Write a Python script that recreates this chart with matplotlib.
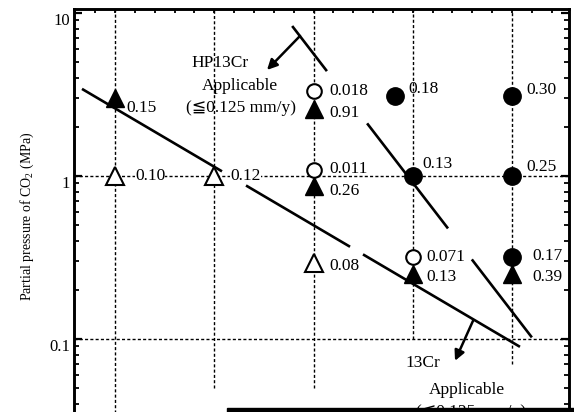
import numpy as np
import matplotlib
matplotlib.use('Agg')
import matplotlib.pyplot as plt
from matplotlib.patches import Rectangle
from matplotlib.ticker import FixedLocator, LogLocator, NullFormatter

plt.rcParams['font.family'] = ['Liberation Serif', 'DejaVu Sans']
plt.rcParams['mathtext.fontset'] = 'custom'
plt.rcParams['mathtext.rm'] = 'Liberation Serif'

# test temperatures (vertical guide lines), x labels are cropped in the source
temps = [60, 80, 100, 120, 140]
guide_bottom = [0.03, 0.05, 0.05, 0.1, 0.07]

# HP13Cr / 13Cr corrosion rates (mm/y) at each test condition
filled_tri_T = [60, 100, 100, 120, 140]
filled_tri_P = [3.0, 2.58, 0.87, 0.25, 0.25]
filled_tri_lbl = ['0.15', '0.91', '0.26', '0.13', '0.39']

open_tri_T = [60, 80, 100]
open_tri_P = [1.0, 1.0, 0.29]
open_tri_lbl = ['0.10', '0.12', '0.08']

open_circ_T = [100, 100, 120]
open_circ_P = [3.32, 1.09, 0.32]
open_circ_lbl = ['0.018', '0.011', '0.071']

filled_circ_T = [116.4, 120, 140, 140, 140]
filled_circ_P = [3.1, 1.0, 3.1, 1.0, 0.32]
filled_circ_lbl = ['0.18', '0.13', '0.30', '0.25', '0.17']

# boundary lines (end points) and the pieces that are actually drawn
hp_ends = [(95.7, 8.32), (144.0, 0.102)]
hp_pieces = [(95.7, 102.7), (110.8, 127.1), (131.9, 144.0)]
cr_ends = [(53.35, 3.42), (141.6, 0.0893)]
cr_pieces = [(53.35, 81.56), (86.4, 107.36), (109.97, 141.6)]

# label offsets in pixels (dx, dy), dy positive = down
filled_tri_off = [(11, 10), (16, 4), (16, 5), (14, 3), (20, 3)]
open_tri_off = [(20, 0), (16, 0), (16, 3)]
open_circ_off = [(16, 0), (16, -1), (14, 0)]
filled_circ_off = [(13, -7), (10, -12), (14, -6), (14, -9), (20, -1)]


def on_line(T, ends):
    (t0, p0), (t1, p1) = ends
    return 10 ** np.interp(T, [t0, t1], [np.log10(p0), np.log10(p1)])


fig = plt.figure(figsize=(5.74, 4.12), dpi=100)
ax = fig.add_axes([74 / 574, 1 - 424 / 412, 495 / 574, 415 / 412])
ax.set_yscale('log')
ax.set_xlim(51.74, 151.48)
ax.set_ylim(0.03, 10.58)

dash = (0, (2.2, 1.6))
for t, yb in zip(temps, guide_bottom):
    ax.plot([t, t], [yb, 10.58], color='k', lw=1.0, ls=dash, zorder=1)
for yv in [1, 0.1]:
    ax.axhline(yv, color='k', lw=1.0, ls=dash, zorder=1)

for ends, pieces in [(hp_ends, hp_pieces), (cr_ends, cr_pieces)]:
    for a, b in pieces:
        ts = np.array([a, b])
        ax.plot(ts, on_line(ts, ends), color='k', lw=1.9, zorder=2,
                solid_capstyle='butt')

arrow = dict(arrowstyle='-|>', lw=1.8, color='k', mutation_scale=15,
             shrinkA=0, shrinkB=0)
ax.annotate('', xy=(90.63, 4.47), xytext=(97.28, 7.23), arrowprops=arrow)
ax.annotate('', xy=(128.51, 0.0733), xytext=(132.14, 0.129), arrowprops=arrow)

ax.plot(filled_tri_T, filled_tri_P, '^', ms=13, color='k', zorder=3)
ax.plot(open_tri_T, open_tri_P, '^', ms=13, mfc='white', mec='k', mew=1.5, zorder=3)
ax.plot(open_circ_T, open_circ_P, 'o', ms=10.5, mfc='white', mec='k', mew=1.5, zorder=4)
ax.plot(filled_circ_T, filled_circ_P, 'o', ms=12.5, color='k', zorder=3)

groups = [
    (filled_tri_T, filled_tri_P, filled_tri_lbl, filled_tri_off),
    (open_tri_T, open_tri_P, open_tri_lbl, open_tri_off),
    (open_circ_T, open_circ_P, open_circ_lbl, open_circ_off),
    (filled_circ_T, filled_circ_P, filled_circ_lbl, filled_circ_off),
]
for xs, ys, lbls, offs in groups:
    for x, y, s, (dx, dy) in zip(xs, ys, lbls, offs):
        box = dict(fc='white', ec='none', pad=0.1) if dy == 0 else None
        ax.annotate(s, xy=(x, y), xytext=(dx, -dy), textcoords='offset pixels',
                    ha='left', va='center', fontsize=12.5, zorder=5, bbox=box)

ax.text(81.16, 4.94, 'HP13Cr', ha='center', va='center', fontsize=12.5)
ax.text(85.19, 3.57, 'Applicable', ha='center', va='center', fontsize=12.5)
ax.text(85.39, 2.61, '(≦0.125 mm/y)', ha='center', va='center', fontsize=12.5)
ax.text(122.06, 0.0712, '13Cr', ha='center', va='center', fontsize=12.5)
ax.text(130.93, 0.0486, 'Applicable', ha='center', va='center', fontsize=12.5)
ax.text(131.7, 0.0356, '(≦0.125 mm/y)', ha='center', va='center', fontsize=12.5)

ax.set_xticks(np.arange(52, 152, 4))
ax.tick_params(axis='x', which='both', direction='in', top=True, bottom=False,
               labelbottom=False, length=3, width=1.3)
ax.yaxis.set_major_locator(FixedLocator([0.1, 1, 10]))
ax.yaxis.set_minor_locator(LogLocator(base=10, subs=np.arange(2, 10)))
ax.yaxis.set_minor_formatter(NullFormatter())
ax.set_yticklabels(['0.1', '1', '10'], va='top')
ax.tick_params(axis='y', which='major', direction='in', left=True, right=True,
               length=6, width=1.6, labelsize=12, pad=3)
ax.tick_params(axis='y', which='minor', direction='in', left=True, right=True,
               length=3.5, width=1.3)

for side in ['left', 'right', 'top']:
    ax.spines[side].set_linewidth(2.1)
ax.spines['bottom'].set_visible(False)

fig.text(27 / 574, 1 - 216 / 412, 'Partial pressure of CO$_2$ (MPa)',
         rotation=90, ha='center', va='center', fontsize=10)

fig.add_artist(Rectangle((227 / 574, 0), (574 - 227) / 574, 4 / 412,
                         transform=fig.transFigure, color='k'))

fig.savefig('out.png', dpi=100)
